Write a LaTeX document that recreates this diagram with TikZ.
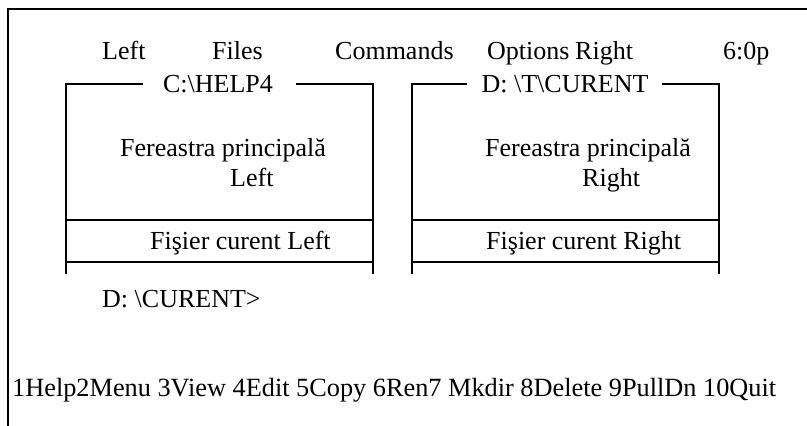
\documentclass[tikz,border=0pt]{standalone}
\usepackage{fontspec}
\setmainfont{Liberation Serif}
\begin{document}
\begin{tikzpicture}[x=1pt,y=-1pt,
  lbl/.style={inner sep=0pt,anchor=base west,font=\fontsize{26}{30}\selectfont},
  ctr/.style={inner sep=0pt,anchor=base,font=\fontsize{26}{30}\selectfont},
  frame/.style={line width=2.4pt},
  outer/.style={line width=2.6pt}]
\useasboundingbox (0,0) rectangle (807,426);
% outer border (top and left only)
\draw[outer] (8,427) -- (8,9) -- (808,9);
% menu bar
\node[lbl] (mleft) at (102,59) {Left};
\node[lbl] (mfiles) at (212,59) {Files};
\node[lbl] (mcmd) at (335,59) {Commands};
\node[lbl] (mopt) at (487,59) {Options};
\node[lbl] (mright) at (575,59) {Right};
\node[lbl] (mtime) at (723,59) {6:0p};
% left panel
\node[ctr] (ltitle) at (218,92) {C:\textbackslash HELP4};
\draw[frame] (143,84) -- (66,84) -- (66,274);
\draw[frame] (296,84) -- (373,84) -- (373,274);
\draw[frame] (66,220) -- (373,220);
\draw[frame] (66,262) -- (373,262);
\node[lbl] (lmain1) at (120,156) {Fereastra principală};
\node[lbl] (lmain2) at (230,186) {Left};
\node[lbl] (lfile) at (150,249) {Fişier curent Left};
% right panel
\node[ctr] (rtitle) at (565,92) {D: \textbackslash T\textbackslash CURENT};
\draw[frame] (467,84) -- (412,84) -- (412,274);
\draw[frame] (662,84) -- (719,84) -- (719,274);
\draw[frame] (412,220) -- (719,220);
\draw[frame] (412,262) -- (719,262);
\node[lbl] (rmain1) at (485,156) {Fereastra principală};
\node[lbl] (rmain2) at (582,186) {Right};
\node[lbl] (rfile) at (486,249) {Fişier curent Right};
% prompt
\node[lbl] (prompt) at (102,307) {D: \textbackslash CURENT>};
% function keys
\node[lbl,font=\fontsize{26.3}{30}\selectfont] (keys) at (12,396) {1Help2Menu 3View 4Edit 5Copy 6Ren7 Mkdir 8Delete 9PullDn 10Quit};
\end{tikzpicture}
\end{document}
